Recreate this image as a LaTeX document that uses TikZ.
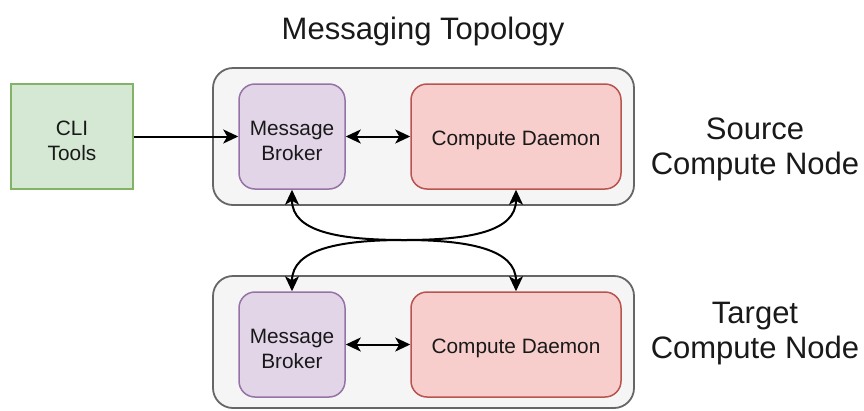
\documentclass[tikz,border=0pt]{standalone}
\usepackage{fontspec}
\setmainfont{Liberation Sans}
\usetikzlibrary{arrows.meta}
\definecolor{greenfill}{HTML}{D5E8D4}
\definecolor{greenline}{HTML}{82B366}
\definecolor{purplefill}{HTML}{E1D5E7}
\definecolor{purpleline}{HTML}{9673A6}
\definecolor{redfill}{HTML}{F8CECC}
\definecolor{redline}{HTML}{B85450}
\definecolor{grayfill}{HTML}{F5F5F5}
\definecolor{grayline}{HTML}{666666}
\begin{document}
\begin{tikzpicture}[x=1pt,y=-1pt,
  boxtext/.style={align=center, inner sep=0pt, yshift=-4pt,
    font=\fontsize{20.8}{25}\selectfont, text=black!90},
  box/.style={draw, line width=1.5pt, inner sep=0pt, label={[boxtext]center:#1}},
  tool/.style={box={#1}, fill=greenfill, draw=greenline, minimum width=122pt, minimum height=105pt},
  broker/.style={box={#1}, fill=purplefill, draw=purpleline, rounded corners=16pt, minimum width=106pt, minimum height=105pt},
  daemon/.style={box={#1}, fill=redfill, draw=redline, rounded corners=16pt, minimum width=210pt, minimum height=105pt},
  host/.style={draw=grayline, fill=grayfill, line width=1.8pt, rounded corners=20pt, minimum width=421pt, inner sep=0pt},
  heading/.style={align=center, font=\fontsize{31}{35}\selectfont, text=black!90},
  tip/.tip={Stealth[length=15pt,width=14pt,inset=4pt]},
  link/.style={line width=2pt, draw=black}
]
\useasboundingbox (0,0) rectangle (864,410);

% title
\node[heading] (title) at (423,31) {Messaging Topology};

% host containers
\node[host, minimum height=137pt] (srchost) at (423.5,136.5) {};
\node[host, minimum height=132pt] (tgthost) at (423.5,342) {};

% host labels
\node[heading] (srclabel) at (755,149) {Source\\Compute Node};
\node[heading] (tgtlabel) at (755,334) {Target\\Compute Node};

% components
\node[tool={CLI\\Tools}] (cli) at (72,136.5) {};
\node[broker={Message\\Broker}] (sb) at (292,136.5) {};
\node[daemon={Compute Daemon}] (sd) at (516,136.5) {};
\node[broker={Message\\Broker}] (tb) at (292,344.5) {};
\node[daemon={Compute Daemon}] (td) at (516,344.5) {};

\coordinate (mid) at (404,240);

% connectors
\draw[link, -tip] (cli) -- (sb);
\draw[link, tip-tip] (sb) -- (sd);
\draw[link, tip-tip] (tb) -- (td);
\draw[link, tip-tip] (sb.south) .. controls +(0,42) and +(-65,0) .. (mid)
                                .. controls +(65,0) and +(0,-42) .. (td.north);
\draw[link, tip-tip] (sd.south) .. controls +(0,42) and +(65,0) .. (mid)
                                .. controls +(-65,0) and +(0,-42) .. (tb.north);
\end{tikzpicture}
\end{document}
